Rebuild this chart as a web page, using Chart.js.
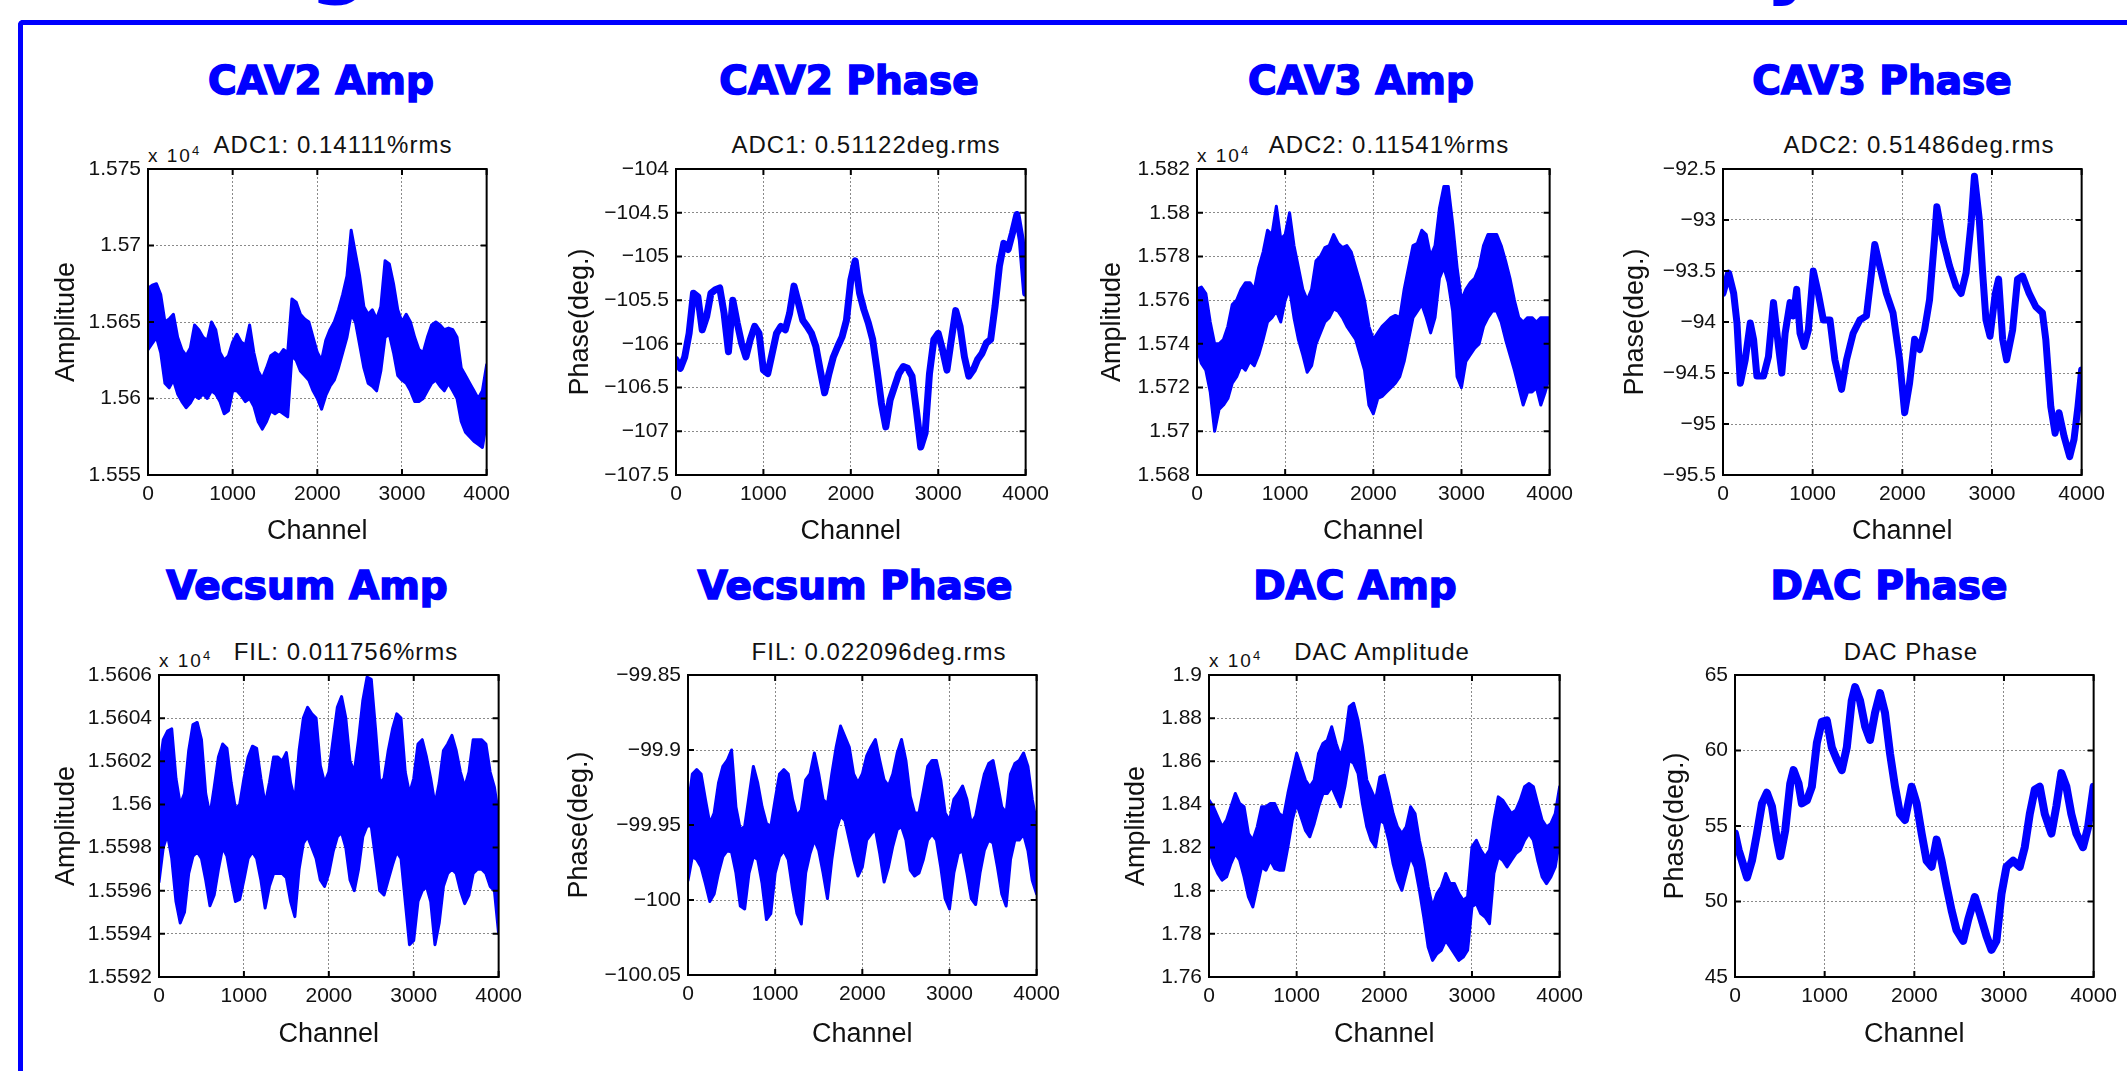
<!DOCTYPE html>
<html>
<head>
<meta charset="utf-8">
<title>LLRF stability</title>
<script src="https://cdn.jsdelivr.net/npm/chart.js@4.4.6/dist/chart.umd.min.js"></script>
<style>
  html, body { margin: 0; padding: 0; background: #fff; }
  body { width: 2127px; height: 1071px; position: relative; overflow: hidden; font-family: "Liberation Sans", Arial, sans-serif; }
  .frame { position: absolute; left: 18px; top: 20px; width: 2300px; height: 1200px; border-top: 5px solid #0000ff; border-left: 5px solid #0000ff; border-top-left-radius: 5px; }
  .banner { position: absolute; top: -83px; font: bold 84px/84px "DejaVu Sans", sans-serif; color: #0000ff; }
  .heading { position: absolute; width: 500px; text-align: center; color: #0000ff; font: bold 39px/39px "DejaVu Sans", sans-serif; -webkit-text-stroke: 1.6px #0000ff; white-space: nowrap; }
  .sub { position: absolute; width: 500px; text-align: center; color: #111; font: 24px/24px "Liberation Sans", sans-serif; letter-spacing: 1px; white-space: nowrap; }
  .exp { position: absolute; color: #111; font: 19px/20px "Liberation Sans", sans-serif; letter-spacing: 2px; white-space: nowrap; }
  .exp sup { font-size: 13px; letter-spacing: 0; vertical-align: 7px; }
  canvas { position: absolute; }
</style>
</head>
<body>
<div class="frame"></div>
<div class="banner" style="left:309px">g</div>
<div class="banner" style="left:1765px">y</div>

<script>
// ---- data ----
const channelGrid = [
  0, 50, 100, 150, 200, 250, 300, 350, 400, 450,
  500, 550, 600, 650, 700, 750, 800, 850, 900, 950,
  1000, 1050, 1100, 1150, 1200, 1250, 1300, 1350, 1400, 1450,
  1500, 1550, 1600, 1650, 1700, 1750, 1800, 1850, 1900, 1950,
  2000, 2050, 2100, 2150, 2200, 2250, 2300, 2350, 2400, 2450,
  2500, 2550, 2600, 2650, 2700, 2750, 2800, 2850, 2900, 2950,
  3000, 3050, 3100, 3150, 3200, 3250, 3300, 3350, 3400, 3450,
  3500, 3550, 3600, 3650, 3700, 3750, 3800, 3850, 3900, 3950,
  4000
]
const channelTicks = [0, 1000, 2000, 3000, 4000]

// CAV2 amplitude (x 10^4), upper / lower edge of the noise band
const cav2AmpHi = [
  1.5672, 1.5674, 1.5675, 1.5668, 1.5650, 1.5652, 1.5655, 1.5640, 1.5632, 1.5628,
  1.5633, 1.5648, 1.5645, 1.5640, 1.5638, 1.5650, 1.5645, 1.5630, 1.5625, 1.5628,
  1.5637, 1.5642, 1.5637, 1.5635, 1.5648, 1.5630, 1.5618, 1.5613, 1.5620, 1.5628,
  1.5630, 1.5628, 1.5632, 1.5630, 1.5665, 1.5663, 1.5655, 1.5652, 1.5650, 1.5640,
  1.5630, 1.5625, 1.5638, 1.5645, 1.5650, 1.5658, 1.5668, 1.5680, 1.5710, 1.5695,
  1.5680, 1.5660, 1.5655, 1.5658, 1.5652, 1.5660, 1.5690, 1.5688, 1.5675, 1.5658,
  1.5650, 1.5655, 1.5650, 1.5640, 1.5632, 1.5630, 1.5640, 1.5648, 1.5650, 1.5648,
  1.5645, 1.5646, 1.5645, 1.5640, 1.5620, 1.5615, 1.5610, 1.5605, 1.5600, 1.5605,
  1.5622
]
const cav2AmpLo = [
  1.5632, 1.5636, 1.5640, 1.5630, 1.5610, 1.5607, 1.5612, 1.5603, 1.5598, 1.5594,
  1.5597, 1.5602, 1.5600, 1.5603, 1.5600, 1.5605, 1.5603, 1.5598, 1.5590, 1.5592,
  1.5605, 1.5605, 1.5602, 1.5598, 1.5600, 1.5595, 1.5585, 1.5580, 1.5585, 1.5592,
  1.5590, 1.5592, 1.5590, 1.5588, 1.5628, 1.5625, 1.5618, 1.5615, 1.5612, 1.5605,
  1.5600, 1.5593, 1.5602, 1.5608, 1.5612, 1.5620, 1.5630, 1.5640, 1.5655, 1.5650,
  1.5635, 1.5620, 1.5610, 1.5608, 1.5605, 1.5618, 1.5640, 1.5642, 1.5630, 1.5615,
  1.5612, 1.5610, 1.5605, 1.5598, 1.5598, 1.5600, 1.5605, 1.5610, 1.5612, 1.5608,
  1.5605, 1.5610, 1.5605, 1.5600, 1.5585, 1.5578, 1.5575, 1.5572, 1.5570, 1.5568,
  1.5585
]
const cav2AmpTicks = [1.555, 1.56, 1.565, 1.57, 1.575]

// CAV2 phase (deg)
const cav2PhaseDeg = [
  -106.18, -106.28, -106.15, -105.88, -105.42, -105.46, -105.84, -105.69, -105.42, -105.38,
  -105.36, -105.65, -106.09, -105.50, -105.76, -105.99, -106.15, -105.95, -105.80, -105.88,
  -106.30, -106.34, -106.11, -105.88, -105.80, -105.84, -105.65, -105.34, -105.53, -105.73,
  -105.80, -105.88, -106.03, -106.30, -106.56, -106.34, -106.15, -106.03, -105.92, -105.73,
  -105.27, -105.05, -105.42, -105.61, -105.76, -105.95, -106.30, -106.68, -106.95, -106.64,
  -106.49, -106.34, -106.26, -106.28, -106.37, -106.76, -107.18, -107.02, -106.34, -105.95,
  -105.88, -106.07, -106.30, -105.95, -105.62, -105.80, -106.15, -106.37, -106.30, -106.18,
  -106.11, -105.99, -105.95, -105.57, -105.11, -104.85, -104.92, -104.73, -104.52, -104.81,
  -105.42
]
const cav2PhaseTicks = [-107.5, -107, -106.5, -106, -105.5, -105, -104.5, -104]

// CAV3 amplitude (x 10^4)
const cav3AmpHi = [
  1.5765, 1.5766, 1.5763, 1.5750, 1.5740, 1.5740, 1.5742, 1.5748, 1.5758, 1.5760,
  1.5765, 1.5768, 1.5768, 1.5765, 1.5775, 1.5782, 1.5792, 1.5790, 1.5803, 1.5788,
  1.5790, 1.5800, 1.5785, 1.5775, 1.5765, 1.5760, 1.5765, 1.5778, 1.5780, 1.5784,
  1.5785, 1.5790, 1.5786, 1.5784, 1.5785, 1.5782, 1.5775, 1.5768, 1.5760, 1.5748,
  1.5742, 1.5745, 1.5748, 1.5750, 1.5752, 1.5753, 1.5752, 1.5765, 1.5775, 1.5785,
  1.5786, 1.5792, 1.5790, 1.5780, 1.5785, 1.5802, 1.5812, 1.5812, 1.5795, 1.5775,
  1.5760, 1.5765, 1.5768, 1.5770, 1.5775, 1.5785, 1.5790, 1.5790, 1.5790, 1.5785,
  1.5778, 1.5770, 1.5760, 1.5752, 1.5750, 1.5752, 1.5752, 1.5750, 1.5752, 1.5752,
  1.5752
]
const cav3AmpLo = [
  1.5738, 1.5731, 1.5728, 1.5718, 1.5700, 1.5710, 1.5712, 1.5715, 1.5722, 1.5725,
  1.5730, 1.5728, 1.5732, 1.5730, 1.5735, 1.5742, 1.5750, 1.5752, 1.5755, 1.5750,
  1.5760, 1.5765, 1.5752, 1.5742, 1.5735, 1.5727, 1.5730, 1.5740, 1.5745, 1.5750,
  1.5752, 1.5756, 1.5755, 1.5752, 1.5748, 1.5745, 1.5742, 1.5735, 1.5728, 1.5712,
  1.5708, 1.5715, 1.5716, 1.5718, 1.5720, 1.5722, 1.5725, 1.5732, 1.5742, 1.5752,
  1.5755, 1.5758, 1.5752, 1.5745, 1.5752, 1.5770, 1.5775, 1.5768, 1.5755, 1.5725,
  1.5720, 1.5732, 1.5735, 1.5738, 1.5740, 1.5748, 1.5752, 1.5755, 1.5755, 1.5750,
  1.5742, 1.5735, 1.5728, 1.5720, 1.5712, 1.5718, 1.5718, 1.5720, 1.5712, 1.5718,
  1.5725
]
const cav3AmpTicks = [1.568, 1.57, 1.572, 1.574, 1.576, 1.578, 1.58, 1.582]

// CAV3 phase (deg), sampled at turning points
const cav3PhaseCh = [
  0, 63, 119, 156, 193, 248, 304, 341, 378, 452, 507, 563, 619, 656, 693,
  748, 785, 822, 859, 904, 952, 1007, 1063, 1119, 1193, 1248, 1322, 1378, 1452, 1526,
  1600, 1656, 1693, 1748, 1822, 1896, 1970, 2026, 2081, 2137, 2193, 2248, 2304, 2359, 2385,
  2452, 2526, 2600, 2656, 2711, 2767, 2804, 2859, 2896, 2933, 2978, 3037, 3074, 3119, 3163,
  3230, 3285, 3341, 3415, 3489, 3563, 3600, 3656, 3704, 3748, 3804, 3867, 3915, 3959, 4000
]
const cav3PhaseDeg = [
  -93.72, -93.52, -93.72, -94.01, -94.60, -94.37, -94.01, -94.17, -94.53, -94.53, -94.34, -93.81, -94.24, -94.50, -94.11,
  -93.81, -93.94, -93.68, -94.11, -94.24, -94.08, -93.50, -93.72, -93.98, -93.98, -94.37, -94.66, -94.37, -94.11, -93.98,
  -93.94, -93.52, -93.24, -93.45, -93.72, -93.91, -94.37, -94.89, -94.60, -94.17, -94.27, -94.08, -93.78, -93.19, -92.87,
  -93.19, -93.45, -93.65, -93.72, -93.52, -93.03, -92.57, -93.00, -93.52, -93.98, -94.14, -93.72, -93.58, -94.17, -94.37,
  -94.08, -93.58, -93.55, -93.72, -93.85, -93.91, -94.17, -94.83, -95.09, -94.89, -95.12, -95.32, -95.15, -94.83, -94.47
]
const cav3PhaseTicks = [-95.5, -95, -94.5, -94, -93.5, -93, -92.5]

// Vector sum amplitude (x 10^4)
const vecsumAmpHi = [
  1.56016, 1.56030, 1.56034, 1.56035, 1.56012, 1.56000, 1.56005, 1.56025, 1.56037, 1.56038,
  1.56030, 1.56005, 1.55995, 1.56008, 1.56022, 1.56028, 1.56026, 1.56010, 1.55998, 1.56000,
  1.56012, 1.56022, 1.56027, 1.56026, 1.56012, 1.56000, 1.56010, 1.56022, 1.56022, 1.56020,
  1.56024, 1.56010, 1.56002, 1.56025, 1.56040, 1.56045, 1.56042, 1.56040, 1.56018, 1.56010,
  1.56015, 1.56030, 1.56045, 1.56050, 1.56040, 1.56020, 1.56015, 1.56030, 1.56048, 1.56059,
  1.56058, 1.56035, 1.56010, 1.56012, 1.56025, 1.56035, 1.56042, 1.56040, 1.56015, 1.56005,
  1.56012, 1.56028, 1.56030, 1.56022, 1.56012, 1.56000, 1.56010, 1.56025, 1.56028, 1.56032,
  1.56025, 1.56015, 1.56008, 1.56015, 1.56030, 1.56030, 1.56030, 1.56028, 1.56015, 1.56008,
  1.55995
]
const vecsumAmpLo = [
  1.55964, 1.55980, 1.55986, 1.55975, 1.55955, 1.55945, 1.55950, 1.55968, 1.55976, 1.55978,
  1.55975, 1.55965, 1.55953, 1.55958, 1.55970, 1.55980, 1.55976, 1.55965, 1.55955, 1.55956,
  1.55965, 1.55975, 1.55978, 1.55975, 1.55965, 1.55952, 1.55962, 1.55968, 1.55968, 1.55968,
  1.55966, 1.55955, 1.55948, 1.55970, 1.55982, 1.55985, 1.55980, 1.55975, 1.55965, 1.55962,
  1.55968, 1.55978, 1.55985, 1.55987, 1.55980, 1.55965, 1.55960, 1.55970, 1.55985, 1.55990,
  1.55990, 1.55975, 1.55960, 1.55958, 1.55965, 1.55972, 1.55978, 1.55975, 1.55955, 1.55935,
  1.55937, 1.55955, 1.55960, 1.55962, 1.55955, 1.55935, 1.55945, 1.55962, 1.55968, 1.55970,
  1.55968, 1.55960, 1.55954, 1.55958, 1.55968, 1.55970, 1.55970, 1.55968, 1.55962, 1.55960,
  1.55940
]
const vecsumAmpTicks = [1.5592, 1.5594, 1.5596, 1.5598, 1.56, 1.5602, 1.5604, 1.5606]

// Vector sum phase (deg)
const vecsumPhaseHi = [
  -99.938, -99.916, -99.913, -99.916, -99.933, -99.949, -99.942, -99.922, -99.911, -99.907,
  -99.900, -99.938, -99.953, -99.951, -99.931, -99.911, -99.922, -99.938, -99.949, -99.951,
  -99.933, -99.916, -99.913, -99.916, -99.933, -99.944, -99.940, -99.920, -99.916, -99.902,
  -99.916, -99.933, -99.936, -99.916, -99.898, -99.884, -99.891, -99.898, -99.916, -99.922,
  -99.916, -99.904, -99.898, -99.893, -99.907, -99.920, -99.924, -99.916, -99.902, -99.893,
  -99.907, -99.931, -99.942, -99.942, -99.927, -99.911, -99.907, -99.907, -99.920, -99.942,
  -99.947, -99.933, -99.929, -99.924, -99.933, -99.949, -99.944, -99.929, -99.916, -99.909,
  -99.907, -99.922, -99.938, -99.942, -99.916, -99.909, -99.907, -99.902, -99.911, -99.933,
  -99.949
]
const vecsumPhaseLo = [
  -99.987, -99.971, -99.973, -99.978, -99.989, -100.001, -99.996, -99.982, -99.971, -99.967,
  -99.968, -99.982, -100.004, -100.006, -99.982, -99.971, -99.973, -99.989, -100.013, -100.009,
  -99.982, -99.971, -99.967, -99.973, -99.993, -100.009, -100.016, -99.982, -99.969, -99.960,
  -99.967, -99.982, -99.999, -99.973, -99.953, -99.944, -99.947, -99.960, -99.973, -99.984,
  -99.978, -99.960, -99.956, -99.953, -99.969, -99.988, -99.978, -99.964, -99.953, -99.951,
  -99.960, -99.980, -99.984, -99.982, -99.973, -99.960, -99.956, -99.960, -99.978, -99.999,
  -100.006, -99.982, -99.969, -99.967, -99.982, -99.999, -100.003, -99.982, -99.967, -99.960,
  -99.962, -99.978, -99.996, -100.004, -99.973, -99.960, -99.960, -99.956, -99.967, -99.987,
  -99.996
]
const vecsumPhaseTicks = [-100.05, -100, -99.95, -99.9, -99.85]

// DAC amplitude (x 10^4)
const dacAmpHi = [
  1.8420, 1.8389, 1.8342, 1.8296, 1.8327, 1.8389, 1.8451, 1.8404, 1.8389, 1.8265,
  1.8234, 1.8296, 1.8389, 1.8389, 1.8404, 1.8404, 1.8358, 1.8342, 1.8451, 1.8544,
  1.8637, 1.8575, 1.8513, 1.8482, 1.8513, 1.8637, 1.8683, 1.8698, 1.8760, 1.8683,
  1.8621, 1.8698, 1.8853, 1.8869, 1.8791, 1.8667, 1.8513, 1.8466, 1.8420, 1.8528,
  1.8536, 1.8451, 1.8358, 1.8296, 1.8265, 1.8296, 1.8389, 1.8358, 1.8234, 1.8141,
  1.8018, 1.7925, 1.7987, 1.8018, 1.8080, 1.8033, 1.8033, 1.7987, 1.7956, 1.7971,
  1.8203, 1.8234, 1.8188, 1.8157, 1.8188, 1.8327, 1.8435, 1.8420, 1.8389, 1.8358,
  1.8373, 1.8420, 1.8482, 1.8497, 1.8482, 1.8404, 1.8327, 1.8296, 1.8311, 1.8358,
  1.8482
]
const dacAmpLo = [
  1.8188, 1.8126, 1.8080, 1.8049, 1.8064, 1.8126, 1.8172, 1.8141, 1.8064, 1.7971,
  1.7925, 1.8018, 1.8110, 1.8095, 1.8141, 1.8103, 1.8095, 1.8095, 1.8203, 1.8327,
  1.8404, 1.8342, 1.8280, 1.8250, 1.8312, 1.8389, 1.8451, 1.8451, 1.8482, 1.8435,
  1.8389, 1.8482, 1.8606, 1.8590, 1.8544, 1.8404, 1.8296, 1.8234, 1.8203, 1.8327,
  1.8312, 1.8234, 1.8126, 1.8049, 1.8002, 1.8080, 1.8157, 1.8110, 1.8002, 1.7878,
  1.7739, 1.7677, 1.7708, 1.7724, 1.7770, 1.7739, 1.7708, 1.7677, 1.7692, 1.7724,
  1.7925, 1.7940, 1.7894, 1.7878, 1.7847, 1.8080, 1.8157, 1.8141, 1.8110, 1.8141,
  1.8172, 1.8188, 1.8234, 1.8265, 1.8234, 1.8141, 1.8064, 1.8033, 1.8064, 1.8110,
  1.8234
]
const dacAmpTicks = [1.76, 1.78, 1.8, 1.82, 1.84, 1.86, 1.88, 1.9]

// DAC phase (deg), sampled at turning points
const dacPhaseCh = [
  0, 41, 78, 134, 189, 245, 301, 356, 412, 468, 505, 560, 616, 653, 709, 746, 802, 857,
  913, 968, 1024, 1080, 1135, 1191, 1247, 1302, 1340, 1395, 1451, 1506, 1562, 1618, 1673, 1729, 1785, 1840,
  1896, 1970, 2026, 2082, 2137, 2193, 2249, 2304, 2360, 2416, 2471, 2545, 2601, 2675, 2731, 2805, 2861, 2916,
  2972, 3028, 3102, 3176, 3232, 3288, 3343, 3399, 3455, 3529, 3584, 3640, 3696, 3751, 3807, 3881, 3937, 4000
]
const dacPhaseDeg = [
  54.5, 53.4, 52.7, 51.6, 52.7, 54.5, 56.5, 57.2, 56.3, 54.1, 53.0, 54.7, 57.8, 58.7, 57.8, 56.5, 56.7, 57.6,
  60.5, 61.9, 62.0, 60.2, 59.4, 58.7, 60.2, 63.3, 64.2, 63.3, 61.6, 60.7, 62.5, 63.8, 62.5, 59.8, 57.6, 55.8,
  55.4, 57.6, 56.5, 54.5, 52.7, 52.3, 54.1, 52.7, 51.0, 49.4, 48.1, 47.4, 48.8, 50.3, 49.2, 47.7, 46.8, 47.4,
  50.5, 52.3, 52.7, 52.3, 53.6, 55.8, 57.4, 57.6, 55.8, 54.5, 56.3, 58.5, 57.6, 55.8, 54.5, 53.6, 54.9, 57.6
]
const dacPhaseTicks = [45, 50, 55, 60, 65]

// ---- drawing ----
const BLUE = '#0000ff'
const FONT = '"Liberation Sans", Arial, sans-serif'

const pairs = (xs, ys) => ys.map((y, i) => ({ x: xs[i], y }))

const band = (xs, hi, lo) => [
  { data: pairs(xs, hi), borderWidth: 3, fill: false },
  { data: pairs(xs, lo), borderWidth: 3, fill: '-1', backgroundColor: BLUE }
]
const trace = (xs, ys, width) => [{ data: pairs(xs, ys), borderWidth: width, fill: false }]

const tickText = (v) => {
  const s = String(parseFloat(v.toFixed(5)))
  return s.replace('-', '\u2212')
}

// MATLAB-like axes box with inward tick marks
const axesBox = {
  id: 'axesBox',
  afterDraw(chart) {
    const { ctx, chartArea: a, scales: { x, y } } = chart
    ctx.save()
    ctx.strokeStyle = '#000'
    ctx.lineWidth = 2
    ctx.strokeRect(a.left, a.top, a.right - a.left, a.bottom - a.top)
    ctx.beginPath()
    x.ticks.forEach((t) => {
      const px = x.getPixelForValue(t.value)
      ctx.moveTo(px, a.bottom); ctx.lineTo(px, a.bottom - 6)
      ctx.moveTo(px, a.top); ctx.lineTo(px, a.top + 6)
    })
    y.ticks.forEach((t) => {
      const py = y.getPixelForValue(t.value)
      ctx.moveTo(a.left, py); ctx.lineTo(a.left + 6, py)
      ctx.moveTo(a.right, py); ctx.lineTo(a.right - 6, py)
    })
    ctx.stroke()
    ctx.restore()
  }
}

// panel boxes: plot area edges (L, R, T, B), y axis band width, x axis band height
const panels = [
  { head: 'CAV2 Amp', headX: 321, sub: 'ADC1: 0.14111%rms', subX: 333, exp: true,
    L: 148, R: 487, T: 169, B: 475, yW: 102, xH: 77, yTitle: 'Amplitude',
    ticks: cav2AmpTicks, sets: band(channelGrid, cav2AmpHi, cav2AmpLo) },
  { head: 'CAV2 Phase', headX: 849, sub: 'ADC1: 0.51122deg.rms', subX: 866, exp: false,
    L: 676, R: 1026, T: 169, B: 475, yW: 116, xH: 77, yTitle: 'Phase(deg.)',
    ticks: cav2PhaseTicks, sets: trace(channelGrid, cav2PhaseDeg, 7) },
  { head: 'CAV3 Amp', headX: 1361, sub: 'ADC2: 0.11541%rms', subX: 1389, exp: true,
    L: 1197, R: 1550, T: 169, B: 475, yW: 105, xH: 77, yTitle: 'Amplitude',
    ticks: cav3AmpTicks, sets: band(channelGrid, cav3AmpHi, cav3AmpLo) },
  { head: 'CAV3 Phase', headX: 1882, sub: 'ADC2: 0.51486deg.rms', subX: 1919, exp: false,
    L: 1723, R: 2082, T: 169, B: 475, yW: 108, xH: 77, yTitle: 'Phase(deg.)',
    ticks: cav3PhaseTicks, sets: trace(cav3PhaseCh, cav3PhaseDeg, 7) },
  { head: 'Vecsum Amp', headX: 307, sub: 'FIL: 0.011756%rms', subX: 346, exp: true,
    L: 159, R: 499, T: 675, B: 977, yW: 113, xH: 78, yTitle: 'Amplitude',
    ticks: vecsumAmpTicks, sets: band(channelGrid, vecsumAmpHi, vecsumAmpLo) },
  { head: 'Vecsum Phase', headX: 855, sub: 'FIL: 0.022096deg.rms', subX: 879, exp: false,
    L: 688, R: 1037, T: 675, B: 975, yW: 129, xH: 80, yTitle: 'Phase(deg.)',
    ticks: vecsumPhaseTicks, sets: band(channelGrid, vecsumPhaseHi, vecsumPhaseLo) },
  { head: 'DAC Amp', headX: 1355, sub: 'DAC Amplitude', subX: 1382, exp: true,
    L: 1209, R: 1560, T: 675, B: 977, yW: 93, xH: 78, yTitle: 'Amplitude',
    ticks: dacAmpTicks, sets: band(channelGrid, dacAmpHi, dacAmpLo) },
  { head: 'DAC Phase', headX: 1889, sub: 'DAC Phase', subX: 1911, exp: false,
    L: 1735, R: 2094, T: 675, B: 977, yW: 80, xH: 78, yTitle: 'Phase(deg.)',
    ticks: dacPhaseTicks, sets: trace(dacPhaseCh, dacPhaseDeg, 8) }
]

function addText(cls, text, left, top) {
  const el = document.createElement('div')
  el.className = cls
  el.innerHTML = text
  el.style.left = left + 'px'
  el.style.top = top + 'px'
  document.body.appendChild(el)
}

function drawPanel(p) {
  const topRow = p.T < 400
  addText('heading', p.head, p.headX - 250, topRow ? 61 : 566)
  addText('sub', p.sub, p.subX - 250, topRow ? 133 : 640)
  if (p.exp) addText('exp', 'x 10<sup>4</sup>', p.L, topRow ? 141 : 646)

  const canvas = document.createElement('canvas')
  const w = p.yW + (p.R - p.L) + 30
  const h = 20 + (p.B - p.T) + p.xH
  canvas.width = w
  canvas.height = h
  canvas.style.left = (p.L - p.yW) + 'px'
  canvas.style.top = (p.T - 20) + 'px'
  canvas.style.width = w + 'px'
  canvas.style.height = h + 'px'
  document.body.appendChild(canvas)

  const grid = { color: '#8a8a8a', lineWidth: 1, drawTicks: false }
  const border = { display: false, dash: [2, 2] }
  const tickFont = { family: FONT, size: 21 }
  const titleFont = { family: FONT, size: 27 }

  new Chart(canvas, {
    type: 'line',
    data: { datasets: p.sets },
    options: {
      responsive: false,
      animation: false,
      devicePixelRatio: 1,
      layout: { padding: { top: 20, right: 30, left: 0, bottom: 0 } },
      plugins: { legend: { display: false }, tooltip: { enabled: false } },
      elements: {
        point: { radius: 0 },
        line: { borderColor: BLUE, borderJoinStyle: 'round', borderCapStyle: 'round', tension: 0 }
      },
      scales: {
        x: {
          type: 'linear', min: 0, max: 4000,
          afterBuildTicks: (s) => { s.ticks = channelTicks.map((v) => ({ value: v })) },
          afterFit: (s) => { s.height = p.xH },
          grid, border,
          ticks: { font: tickFont, color: '#111', padding: 7, maxRotation: 0, autoSkip: false, callback: (v) => String(v) },
          title: { display: true, text: 'Channel', font: titleFont, color: '#111', padding: { top: 4, bottom: 4 } }
        },
        y: {
          type: 'linear', min: p.ticks[0], max: p.ticks[p.ticks.length - 1],
          afterBuildTicks: (s) => { s.ticks = p.ticks.map((v) => ({ value: v })) },
          afterFit: (s) => { s.width = p.yW },
          grid, border,
          ticks: { font: tickFont, color: '#111', padding: 7, autoSkip: false, callback: tickText },
          title: { display: true, text: p.yTitle, font: titleFont, color: '#111', padding: { top: 4, bottom: 4 } }
        }
      }
    },
    plugins: [axesBox]
  })
}

panels.forEach(drawPanel)
</script>
</body>
</html>
